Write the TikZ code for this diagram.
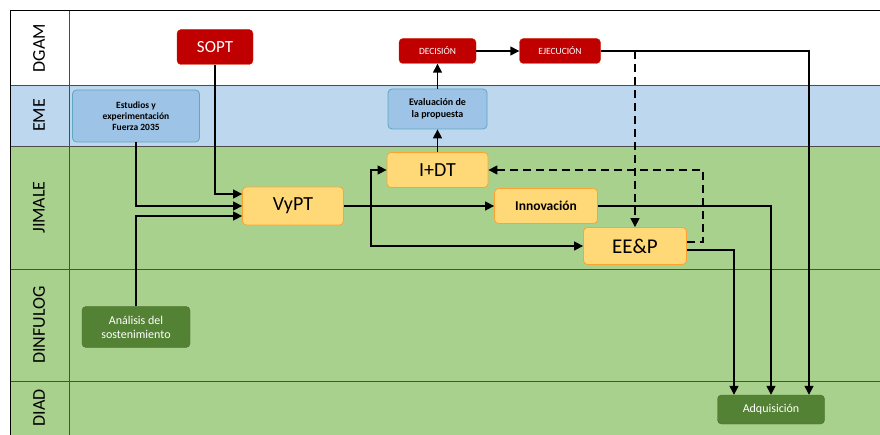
\documentclass[tikz,border=0pt]{standalone}
\usepackage{fontspec}
\setmainfont{Carlito}
\usetikzlibrary{arrows.meta}
\definecolor{rojo}{HTML}{C00000}
\definecolor{azulcarril}{HTML}{BDD7EE}
\definecolor{verdecarril}{HTML}{A9D18E}
\definecolor{azulcaja}{HTML}{9DC3E6}
\definecolor{naranja}{HTML}{FFD978}
\definecolor{verdecaja}{HTML}{548235}
\begin{document}
\begin{tikzpicture}
		[x=1pt,y=-1pt,
		carril/.style={draw=black!70,line width=0.8pt},
		etiqueta/.style={rotate=90,font=\fontsize{18}{18}\selectfont},
		caja/.style={rounded corners=4pt,align=center,inner sep=1pt},
		rojocaja/.style={caja,fill=rojo,draw=rojo!70!orange,text=white},
		azulbox/.style={caja,fill=azulcaja,draw=teal!40!azulcaja,line width=0.8pt,font=\bfseries\fontsize{9.5}{11}\selectfont},
		naranjabox/.style={caja,fill=naranja,draw=orange!60!naranja,line width=0.8pt},
		verdebox/.style={caja,fill=verdecaja,draw=verdecaja!85!black,text=white,font=\fontsize{12}{14}\selectfont},
		flecha/.style={-{Triangle[length=9pt,width=9pt]},line width=1.4pt},
		discontinua/.style={dash pattern=on 8pt off 5pt}]
		\useasboundingbox (0,0) rectangle (880,435);
		\fill[azulcarril] (10,85) rectangle (880,146);
		\fill[verdecarril] (10,146) rectangle (880,435);
		\draw[carril] (10,85) -- (880,85);
		\draw[carril] (10,146) -- (880,146);
		\draw[carril] (10,269) -- (880,269);
		\draw[carril] (10,381) -- (880,381);
		\draw[carril] (69,11) -- (69,435);
		\draw[line width=1pt] (10,435) -- (10,11) -- (880,11);
		\node[etiqueta] (dgam) at (39,48) {DGAM};
		\node[etiqueta] (eme) at (39,115.5) {EME};
		\node[etiqueta] (jimale) at (39,207.5) {JIMALE};
		\node[etiqueta] (dinfulog) at (39,325) {DINFULOG};
		\node[etiqueta] (diad) at (39,408) {DIAD};
		\node[rojocaja,minimum width=76,minimum height=35,font=\fontsize{17}{17}\selectfont] (sopt) at (215,47) {SOPT};
		\node[rojocaja,minimum width=77,minimum height=25,font=\fontsize{9.5}{10}\selectfont] (decision) at (437.5,51) {DECISIÓN};
		\node[rojocaja,minimum width=81,minimum height=25,font=\fontsize{9.5}{10}\selectfont] (ejecucion) at (560,51) {EJECUCIÓN};
		\node[azulbox,minimum width=127,minimum height=52] (estudios) at (136,116) {Estudios y\\experimentación\\Fuerza 2035};
		\node[azulbox,minimum width=99,minimum height=40,font=\bfseries\fontsize{10}{12}\selectfont] (evaluacion) at (437.5,109) {Evaluación de\\la propuesta};
		\node[naranjabox,minimum width=101,minimum height=38,font=\fontsize{20}{20}\selectfont] (vypt) at (293,206) {VyPT};
		\node[naranjabox,minimum width=101,minimum height=35,font=\fontsize{20}{20}\selectfont] (idt) at (437.5,170) {I+DT};
		\node[naranjabox,minimum width=103,minimum height=35,font=\bfseries\fontsize{13.5}{14}\selectfont] (innovacion) at (546,206) {Innovación};
		\node[naranjabox,minimum width=103,minimum height=37,font=\fontsize{21}{21}\selectfont] (eep) at (635,246) {EE\&P};
		\node[verdebox,minimum width=108,minimum height=41] (analisis) at (136,327) {Análisis del\\sostenimiento};
		\node[verdebox,minimum width=107,minimum height=29] (adquisicion) at (771,409.5) {Adquisición};
		\coordinate (rama) at (371,206);
		\draw[flecha] (sopt.south) |- ([yshift=12pt]vypt.west);
		\draw[flecha] (estudios.south) |- (vypt.west);
		\draw[flecha] (analisis.north) |- ([yshift=-10pt]vypt.west);
		\draw[flecha] (vypt.east) -- (innovacion.west);
		\draw[flecha] (rama) |- (idt.west);
		\draw[flecha] (rama) |- (eep.west);
		\draw[flecha] (idt.north) -- (evaluacion.south);
		\draw[flecha] (evaluacion.north) -- (decision.south);
		\draw[flecha] (decision.east) -- (ejecucion.west);
		\draw[flecha] (ejecucion.east) -| ([xshift=38pt]adquisicion.north);
		\draw[flecha,discontinua] (eep.north |- ejecucion.east) -- (eep.north);
		\draw[flecha,discontinua] ([yshift=4pt]eep.east) -- ++(16,0) |- (idt.east);
		\draw[flecha] (innovacion.east) -| (adquisicion.north);
		\draw[flecha] ([yshift=-4pt]eep.east) -| ([xshift=-37pt]adquisicion.north);
\end{tikzpicture}
\end{document}
